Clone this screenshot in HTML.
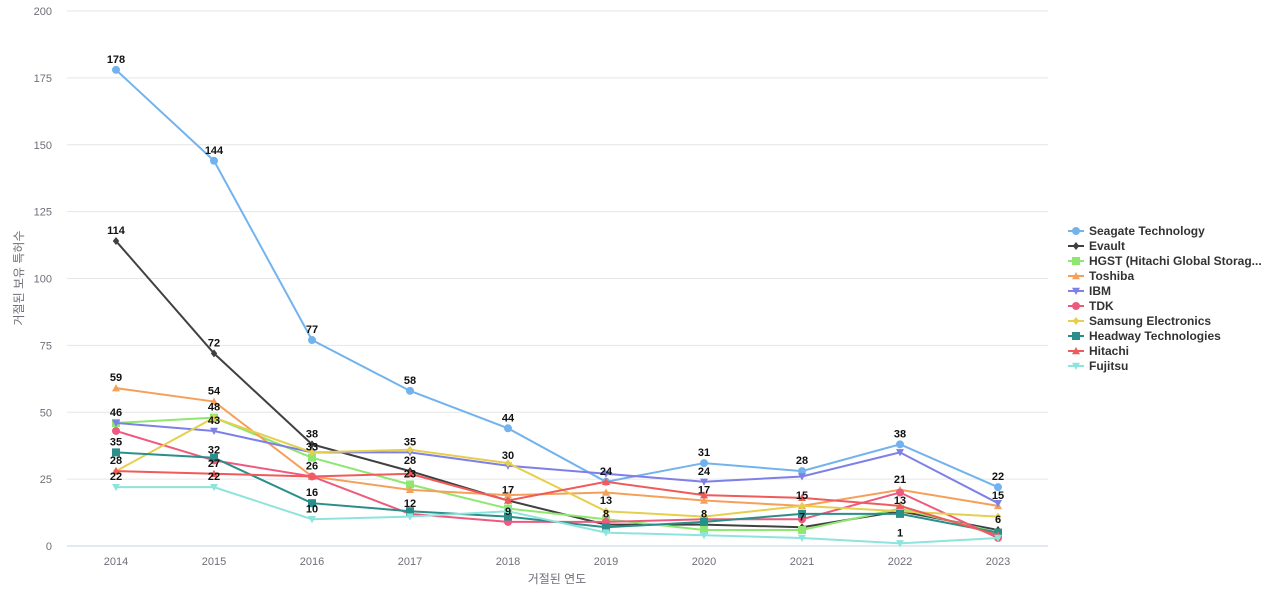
<!DOCTYPE html>
<html><head><meta charset="utf-8"><style>
body{margin:0;background:#fff;font-family:"Liberation Sans","Noto Sans CJK KR",sans-serif;}
svg{display:block}
</style></head><body>
<svg id="chart" width="1280" height="600"></svg>
<script>
const years=[2014,2015,2016,2017,2018,2019,2020,2021,2022,2023];
const yTicks=[0,25,50,75,100,125,150,175,200];
const seriesNames=["Seagate Technology","Evault","HGST (Hitachi Global Storag...","Toshiba","IBM","TDK","Samsung Electronics","Headway Technologies","Hitachi","Fujitsu"];
const seagate=[178,144,77,58,44,24,31,28,38,22];
const evault=[114,72,38,28,17,8,8,7,13,6];
const hgst=[46,48,33,23,14,10,6,6,14,5];
const toshiba=[59,54,26,21,19,20,17,15,21,15];
const ibm=[46,43,35,35,30,27,24,26,35,16];
const tdk=[43,32,26,12,9,9,10,10,20,3];
const samsung=[28,48,35,36,31,13,11,15,13,11];
const headway=[35,33,16,13,11,7,9,12,12,5];
const hitachi=[28,27,26,27,17,24,19,18,15,4];
const fujitsu=[22,22,10,11,13,5,4,3,1,3];
const seriesValues=[seagate,evault,hgst,toshiba,ibm,tdk,samsung,headway,hitachi,fujitsu];
const colors=["#73b3ed","#404040","#8ee76f","#f5a05a","#7f7fe8","#ee5a7e","#e6cf4d","#2a8f8a","#f05a5a","#8ee4dc"];
const shapes=["circle","diamond","square","tri","tri-down","circle","diamond","square","tri","tri-down"];
const NS="http://www.w3.org/2000/svg";
const svg=document.getElementById('chart');
const L=67,R=1048,T=11,B=546;
const x=i=>116+i*(998-116)/(years.length-1);
const y=v=>B-(v/200)*(B-T);
function mk(tag,attrs,parent){const e=document.createElementNS(NS,tag);for(const k in attrs)e.setAttribute(k,attrs[k]);(parent||svg).appendChild(e);return e;}
yTicks.forEach(t=>{
  const g=mk('line',{x1:L,x2:R,y1:y(t),y2:y(t),stroke:t===0?'#c7d3e6':'#e6e6e6','stroke-width':1});
  
  
  const tx=mk('text',{x:52,y:y(t)+4,'text-anchor':'end','font-size':11,fill:'#6e7079'});
  tx.textContent=t;
  
  
});
years.forEach((yr,i)=>{
  const tx=mk('text',{x:x(i),y:565,'text-anchor':'middle','font-size':11,fill:'#6e7079'});
  tx.textContent=yr;
  
  
});
const xt=mk('text',{x:557,y:583,'text-anchor':'middle','font-size':12,fill:'#6e7079'});
xt.textContent='거절된 연도';


const yt=mk('text',{x:0,y:0,'text-anchor':'middle','font-size':12,fill:'#6e7079',transform:'translate(23,278) rotate(-90)'});
yt.textContent='거절된 보유 특허수';


function marker(shape,cx,cy,c,parent,s){
  s=s||4;
  if(shape==='circle')return mk('circle',{cx,cy,r:s,fill:c},parent);
  if(shape==='square')return mk('rect',{x:cx-s,y:cy-s,width:2*s,height:2*s,fill:c},parent);
  if(shape==='diamond')return mk('polygon',{points:`${cx},${cy-s} ${cx+s*0.8},${cy} ${cx},${cy+s} ${cx-s*0.8},${cy}`,fill:c},parent);
  if(shape==='tri')return mk('polygon',{points:`${cx},${cy-s} ${cx+s},${cy+s*0.8} ${cx-s},${cy+s*0.8}`,fill:c},parent);
  return mk('polygon',{points:`${cx-s},${cy-s*0.8} ${cx+s},${cy-s*0.8} ${cx},${cy+s}`,fill:c},parent);
}
seriesValues.forEach((vals,si)=>{
  const g=mk('g',{});
  
  
  const pts=vals.map((v,i)=>x(i)+','+y(v)).join(' ');
  const pl=mk('polyline',{points:pts,fill:'none',stroke:colors[si],'stroke-width':2},g);
  
  
  vals.forEach((v,i)=>{
    const m=marker(shapes[si],x(i),y(v),colors[si],g);
    
    
  });
});
years.forEach((yr,i)=>{
  const placed=[];
  seriesValues.forEach((vals,si)=>{
    const ly=y(vals[i])-7;
    if(placed.some(p=>Math.abs(p-ly)<11))return;
    placed.push(ly);
    const t=mk('text',{x:x(i),y:ly,'text-anchor':'middle','font-size':11,'font-weight':'bold',fill:'#111'});
    t.textContent=vals[i];
    
    
  });
});
seriesNames.forEach((n,si)=>{
  const ly=231+si*15;
  const g=mk('g',{});
  
  
  mk('line',{x1:1068,x2:1084,y1:ly,y2:ly,stroke:colors[si],'stroke-width':2},g);
  marker(shapes[si],1076,ly,colors[si],g,4);
  const t=mk('text',{x:1089,y:ly+4,'font-size':12,'font-weight':'bold',fill:'#333'},g);
  t.textContent=n;
});
</script>
</body></html>
